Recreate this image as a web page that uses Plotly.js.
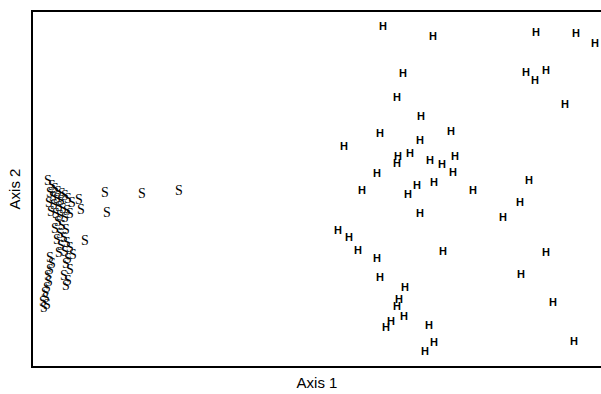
<!DOCTYPE html>
<html>
<head>
<meta charset="utf-8">
<script src="https://cdn.plot.ly/plotly-3.0.1.min.js"></script>
<style>html,body{margin:0;padding:0;background:#fff;}#chart{width:601px;height:394px;}</style>
</head>
<body>
<div id="chart"></div>
<script>
// Group H scores
var hAxis1 = [0.66,1.16,2.19,2.59,2.78,0.86,2.09,2.18,2.29,0.80,2.48,1.04,0.63,1.34,1.03,0.27,0.81,0.93,0.80,1.13,1.25,1.38,1.36,0.60,1.00,1.17,2.12,0.45,0.91,1.56,2.03,1.86,1.03,0.21,0.32,0.41,0.60,1.26,2.29,0.63,2.04,0.88,0.82,0.80,0.87,0.74,0.69,1.12,2.36,1.17,1.08,2.57];
var hAxis2 = [1.62,1.52,1.56,1.55,1.45,1.15,1.16,1.08,1.18,0.91,0.84,0.72,0.55,0.57,0.48,0.42,0.32,0.35,0.25,0.28,0.24,0.32,0.16,0.15,0.03,0.06,0.08,-0.02,-0.06,-0.02,-0.14,-0.29,-0.25,-0.42,-0.49,-0.62,-0.70,-0.63,-0.64,-0.89,-0.86,-0.99,-1.11,-1.18,-1.28,-1.33,-1.39,-1.37,-1.14,-1.54,-1.63,-1.53];
// Group S scores
var sAxis1 = [-2.69,-2.65,-2.62,-2.59,-2.55,-2.52,-2.67,-2.64,-2.60,-2.56,-2.49,-2.45,-2.68,-2.63,-2.58,-2.54,-2.50,-2.66,-2.61,-2.57,-2.52,-2.47,-2.59,-2.55,-2.62,-2.51,-2.57,-2.53,-2.60,-2.50,-2.56,-2.47,-2.52,-2.44,-2.58,-2.49,
  -2.38,-2.36,-2.12,-1.75,-1.38,-2.10,-2.32,
  -2.67,-2.65,-2.67,-2.69,-2.68,-2.70,-2.72,-2.71,-2.74,-2.70,-2.73,
  -2.51,-2.47,-2.53,-2.49,-2.51];
var sAxis2 = [0.08,0.03,0.00,-0.03,-0.05,-0.07,-0.04,-0.08,-0.10,-0.12,-0.10,-0.14,-0.14,-0.16,-0.18,-0.20,-0.22,-0.23,-0.25,-0.27,-0.29,-0.25,-0.33,-0.37,-0.40,-0.41,-0.45,-0.49,-0.51,-0.54,-0.57,-0.59,-0.63,-0.66,-0.64,-0.70,
  -0.11,-0.21,-0.04,-0.05,-0.02,-0.24,-0.52,
  -0.69,-0.75,-0.81,-0.87,-0.93,-0.99,-1.04,-1.09,-1.13,-1.16,-1.19,
  -0.75,-0.81,-0.87,-0.92,-0.97];
var hLabel = 'H', sLabel = 'S';
var xTitle = 'Axis 1', yTitle = 'Axis 2';

var traces = [
  {x: sAxis1, y: sAxis2, mode: 'text', type: 'scatter', text: sAxis1.map(function(){return sLabel;}),
   textposition: 'middle center', cliponaxis: false,
   textfont: {family: 'Liberation Serif, Times New Roman, serif', size: 14, color: '#000'}, hoverinfo: 'none'},
  {x: hAxis1, y: hAxis2, mode: 'text', type: 'scatter', text: hAxis1.map(function(){return hLabel;}),
   textposition: 'middle center', cliponaxis: false,
   textfont: {family: 'Liberation Sans, Arial, sans-serif', size: 11, color: '#000', weight: 'bold'}, hoverinfo: 'none'}
];
var layout = {
  width: 601, height: 394,
  margin: {l: 33, r: 0, t: 12, b: 28},
  paper_bgcolor: '#fff', plot_bgcolor: '#fff',
  showlegend: false,
  font: {family: 'Liberation Sans, Arial, sans-serif', color: '#000'},
  xaxis: {range: [-2.84, 2.84], showticklabels: false, ticks: '', showgrid: false, zeroline: false,
          showline: true, linewidth: 2, linecolor: '#000', mirror: true,
          title: {text: xTitle, font: {size: 15}, standoff: 10}, automargin: false},
  yaxis: {range: [-1.77, 1.77], showticklabels: false, ticks: '', showgrid: false, zeroline: false,
          showline: true, linewidth: 2, linecolor: '#000',
          title: {text: yTitle, font: {size: 15}, standoff: 7}, automargin: false}
};
Plotly.newPlot('chart', traces, layout, {staticPlot: true, displayModeBar: false});
</script>
</body>
</html>
